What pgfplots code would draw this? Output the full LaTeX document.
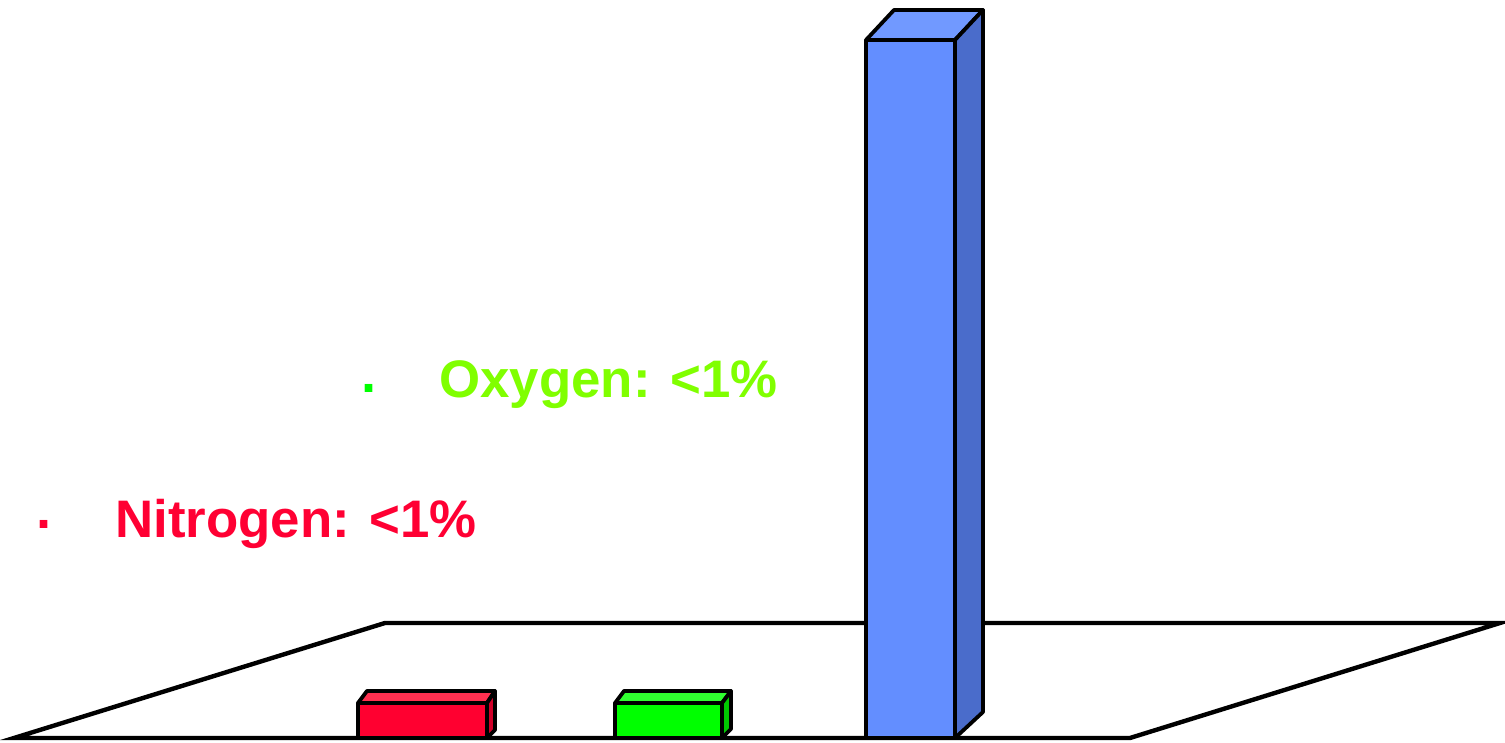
\documentclass[border=0pt]{standalone}
\usepackage{pgfplots}
\pgfplotsset{compat=1.18}
\usepackage{fontspec}
\setmainfont{Liberation Sans}
\definecolor{redF}{HTML}{FF0030}
\definecolor{redT}{HTML}{FF3050}
\definecolor{redS}{HTML}{D00028}
\definecolor{grnF}{HTML}{00FF00}
\definecolor{grnT}{HTML}{30FF30}
\definecolor{grnS}{HTML}{00C800}
\definecolor{bluF}{HTML}{638EFF}
\definecolor{bluT}{HTML}{7199FF}
\definecolor{bluS}{HTML}{4A6CCB}
\definecolor{txtR}{HTML}{FF0033}
\definecolor{txtG}{HTML}{80FF00}
\begin{document}
\begin{tikzpicture}
\begin{axis}[
  width=752.5pt, height=371.5pt, scale only axis,
  xmin=0, xmax=1505, ymin=0, ymax=743,
  hide axis, clip=false,
]
% floor
\addplot[draw=black, fill=white, line width=2.2pt, line join=miter] coordinates {(14,5) (385,120) (1500,120) (1130,5)} -- cycle;
% red bar
\addplot[draw=black, fill=redT, line width=1.9pt, line join=round] coordinates {(358,40) (487,40) (495,52) (367,52)} -- cycle;
\addplot[draw=black, fill=redS, line width=1.9pt, line join=round] coordinates {(487,5) (495,13) (495,52) (487,40)} -- cycle;
\addplot[draw=black, fill=redF, line width=1.9pt, line join=round] coordinates {(358,5) (487,5) (487,40) (358,40)} -- cycle;
% green bar
\addplot[draw=black, fill=grnT, line width=1.9pt, line join=round] coordinates {(615,40) (722,40) (731,52) (624,52)} -- cycle;
\addplot[draw=black, fill=grnS, line width=1.9pt, line join=round] coordinates {(722,5) (731,14) (731,52) (722,40)} -- cycle;
\addplot[draw=black, fill=grnF, line width=1.9pt, line join=round] coordinates {(615,5) (722,5) (722,40) (615,40)} -- cycle;
% blue bar
\addplot[draw=black, fill=bluT, line width=1.9pt, line join=round] coordinates {(866,703) (955,703) (983,733) (894,733)} -- cycle;
\addplot[draw=black, fill=bluS, line width=1.9pt, line join=round] coordinates {(955,5) (983,31) (983,733) (955,703)} -- cycle;
\addplot[draw=black, fill=bluF, line width=1.9pt, line join=round] coordinates {(866,5) (955,5) (955,703) (866,703)} -- cycle;
% labels
\node[anchor=base west, inner sep=0pt, text=txtR, font=\fontsize{26.4}{30}\selectfont\bfseries] at (axis cs:115,205) {Nitrogen: <1\%};
\node[anchor=base west, inner sep=0pt, text=txtG, font=\fontsize{26.4}{30}\selectfont\bfseries] at (axis cs:439,345) {Oxygen: <1\%};
\node[anchor=base, inner sep=0pt, text=txtR, font=\fontsize{27}{30}\selectfont\bfseries] at (axis cs:45,200) {·};
\node[anchor=base, inner sep=0pt, text=grnF, font=\fontsize{27}{30}\selectfont\bfseries] at (axis cs:370,336) {·};
\end{axis}
\pgfresetboundingbox
\path[use as bounding box] (current axis.south west) rectangle (current axis.north east);
\end{tikzpicture}
\end{document}
